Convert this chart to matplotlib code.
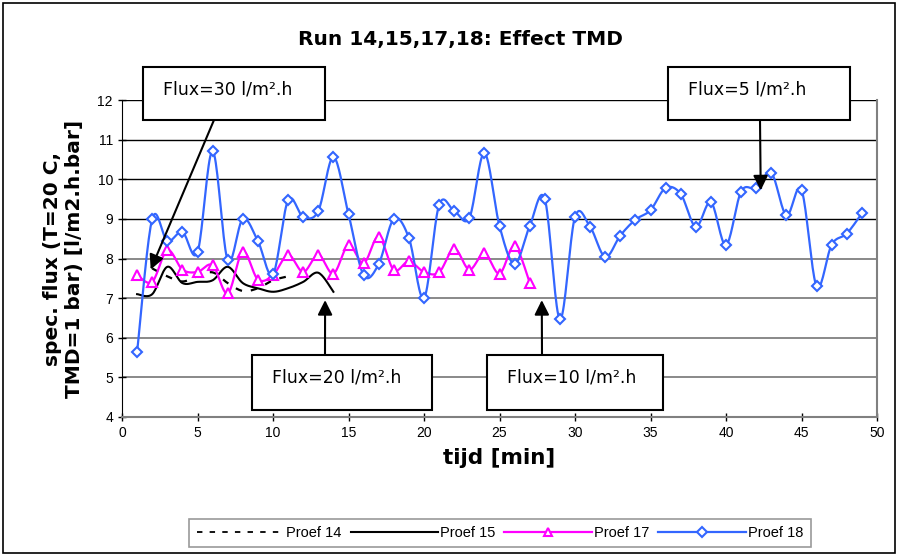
import numpy as np
import matplotlib.pyplot as plt
from matplotlib.lines import Line2D
from matplotlib.patches import Rectangle

# data (tijd in min, spec. flux)
t14 = [2, 3, 4, 5, 6, 7, 8, 9, 10, 11]
f14 = [7.75, 7.55, 7.42, 7.55, 7.65, 7.38, 7.18, 7.25, 7.45, 7.55]

t15 = [1, 2, 3, 4, 5, 6, 7, 8, 9, 10, 11, 12, 13, 14]
f15 = [7.1, 7.1, 7.79, 7.38, 7.41, 7.45, 7.79, 7.38, 7.25, 7.16, 7.25, 7.41, 7.64, 7.16]

t17 = list(range(1, 28))
f17 = [7.58, 7.41, 8.21, 7.72, 7.66, 7.83, 7.12, 8.17, 7.47, 7.58, 8.09, 7.66, 8.09, 7.62,
       8.34, 7.88, 8.55, 7.71, 7.93, 7.66, 7.65, 8.25, 7.72, 8.13, 7.62, 8.31, 7.39]

t18 = list(range(1, 50))
f18 = [5.64, 9.0, 8.44, 8.67, 8.16, 10.71, 7.96, 9.0, 8.44, 7.6, 9.47, 9.05, 9.2, 10.56,
       9.12, 7.58, 7.86, 9.0, 8.52, 7.0, 9.35, 9.2, 9.02, 10.66, 8.82, 7.86, 8.82, 9.5,
       6.47, 9.05, 8.8, 8.04, 8.58, 8.98, 9.22, 9.78, 9.63, 8.8, 9.42, 8.34, 9.69, 9.78,
       10.16, 9.09, 9.73, 7.3, 8.35, 8.63, 9.14]

# annotations: text, box (px left, top, right, bottom), arrow tail (px), arrow tip (data)
notes = [
    ("Flux=30 l/m\u00b2.h", (143, 67, 325, 120), (214, 120), (1.9, 7.72)),
    ("Flux=5 l/m\u00b2.h", (668, 67, 850, 120), (760, 120), (42.3, 9.72)),
    ("Flux=20 l/m\u00b2.h", (252, 355, 432, 410), (325, 355), (13.45, 6.95)),
    ("Flux=10 l/m\u00b2.h", (487, 355, 663, 410), (542, 355), (27.8, 6.95)),
]


def smooth(x, y, n=20):
    # excel-like smoothed line (bezier through the points)
    x = np.asarray(x, float)
    y = np.asarray(y, float)
    p = np.column_stack([x, y])
    out = []
    for i in range(len(p) - 1):
        p0 = p[max(i - 1, 0)]
        p1 = p[i]
        p2 = p[i + 1]
        p3 = p[min(i + 2, len(p) - 1)]
        c1 = p1 + (p2 - p0) / 6
        c2 = p2 - (p3 - p1) / 6
        s = np.linspace(0, 1, n)[:, None]
        seg = (1 - s) ** 3 * p1 + 3 * (1 - s) ** 2 * s * c1 + 3 * (1 - s) * s ** 2 * c2 + s ** 3 * p2
        out.append(seg)
    out = np.vstack(out)
    return out[:, 0], out[:, 1]


plt.rcParams['font.family'] = ['Liberation Sans', 'DejaVu Sans']
W, H = 898, 556
fig = plt.figure(figsize=(W / 100, H / 100), dpi=100)
ax = fig.add_axes([122 / W, 1 - 417 / H, (877 - 122) / W, (417 - 100) / H])

blue = '#3366FF'
mag = '#FF00FF'

# grid lines
for v in range(5, 13):
    ax.axhline(v, color='black' if v >= 9 else '#808080', lw=1.0 if v >= 9 else 1.3, zorder=1)

x, y = smooth(t14, f14)
ax.plot(x, y, color='black', lw=1.6, ls=(0, (3, 4)), zorder=3)
x, y = smooth(t15, f15)
ax.plot(x, y, color='black', lw=1.5, zorder=3)
x, y = smooth(t17, f17)
ax.plot(x, y, color=mag, lw=1.6, zorder=3)
ax.plot(t17, f17, ls='none', marker='^', ms=7, mfc='white', mec=mag, mew=1.5, zorder=4)
x, y = smooth(t18, f18)
ax.plot(x, y, color=blue, lw=1.6, zorder=3)
ax.plot(t18, f18, ls='none', marker='D', ms=5.5, mfc='white', mec=blue, mew=1.5, zorder=4)

ax.set_xlim(0, 50)
ax.set_ylim(4, 12)
ax.set_xticks(range(0, 51, 5))
ax.set_yticks(range(4, 13))
ax.tick_params(direction='inout', length=6, labelsize=10, width=1)
ax.spines['top'].set_visible(False)
ax.spines['right'].set_color('#808080')
ax.spines['bottom'].set_color('#808080')
ax.spines['left'].set_color('black')
ax.spines['right'].set_linewidth(1.5)
ax.spines['bottom'].set_linewidth(1.5)

ax.set_xlabel('tijd [min]', fontsize=15.5, fontweight='bold', family='DejaVu Sans', labelpad=6)
ax.set_ylabel('spec. flux (T=20 C,\nTMD=1 bar) [l/m2.h.bar]', fontsize=14.5, fontweight='bold',
              family='DejaVu Sans', labelpad=10)
fig.text(460 / W, 1 - 40 / H, 'Run 14,15,17,18: Effect TMD', ha='center', va='center',
         fontsize=14.5, fontweight='bold', family='DejaVu Sans')

# flux boxes with arrows
for txt, (l, t, r, b), tail, tip in notes:
    fig.add_artist(Rectangle((l / W, 1 - b / H), (r - l) / W, (b - t) / H, transform=fig.transFigure,
                             facecolor='white', edgecolor='black', lw=1.5, zorder=5))
    fig.text((l + 20) / W, 1 - (t + 22) / H, txt, ha='left', va='center', fontsize=12.5,
             family='DejaVu Sans', zorder=6)
    ax.annotate('', xy=tip, xycoords='data', xytext=(tail[0] / W, 1 - tail[1] / H),
                textcoords='figure fraction',
                arrowprops=dict(arrowstyle='-|>', color='black', lw=1.5, mutation_scale=22,
                                shrinkA=0, shrinkB=0), zorder=6)

# legend
handles = [
    Line2D([], [], color='black', lw=1.3, ls=(0, (3, 4))),
    Line2D([], [], color='black', lw=1.5),
    Line2D([], [], color=mag, lw=1.6, marker='^', ms=6, mfc='white', mec=mag, mew=1.5),
    Line2D([], [], color=blue, lw=1.6, marker='D', ms=5, mfc='white', mec=blue, mew=1.5),
]
leg = fig.legend(handles, ['Proef 14', 'Proef 15', 'Proef 17', 'Proef 18'], loc='center',
                 bbox_to_anchor=(500 / W, 1 - 533 / H), ncol=4, handlelength=6.0, handletextpad=0.15,
                 columnspacing=0.6, fontsize=10.5, frameon=True, fancybox=False, borderpad=0.5)
leg.get_frame().set_edgecolor('#808080')
leg.get_frame().set_linewidth(1.2)

# outer border
fig.add_artist(Rectangle((3 / W, 3 / H), (W - 6) / W, (H - 6) / H, transform=fig.transFigure,
                         fill=False, edgecolor='black', lw=1.2))

fig.savefig('out.png', dpi=100)
